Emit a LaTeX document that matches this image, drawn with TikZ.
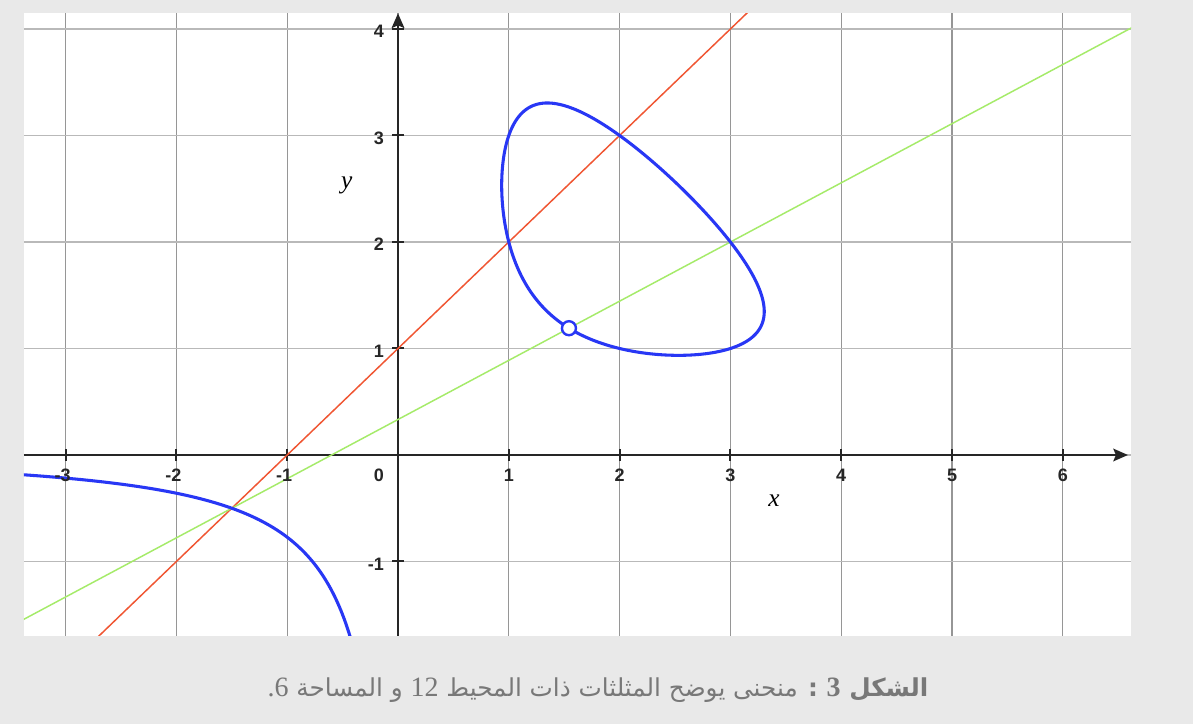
\documentclass[tikz,border=0pt]{standalone}
\usepackage{fontspec}
\setmainfont{Liberation Serif}
\newfontfamily\arabicfont[Script=Arabic]{DejaVu Sans}
\newfontfamily\ticksfont{Liberation Sans}
\newfontfamily\numfont{Liberation Serif}
\TeXXeTstate=1
\usetikzlibrary{arrows.meta}
\definecolor{bggray}{RGB}{233,233,233}
\definecolor{gridv}{RGB}{150,150,150}
\definecolor{gridh}{RGB}{185,185,185}
\definecolor{curveblue}{RGB}{40,55,245}
\definecolor{linered}{RGB}{240,85,50}
\definecolor{linegreen}{RGB}{165,235,105}
\definecolor{captiongray}{RGB}{120,120,120}
\begin{document}
\begin{tikzpicture}[x=83.1pt,y=79.875pt,
  gridvline/.style={draw=gridv,line width=0.8pt},
  gridhline/.style={draw=gridh,line width=0.8pt},
  axisline/.style={draw=black!85,line width=1.5pt,-{Stealth[length=11pt,width=9.5pt,inset=2pt]}},
  tickmark/.style={draw=black!85,line width=1.5pt},
  ticklabel/.style={font=\ticksfont\bfseries\fontsize{13.5}{15}\selectfont,text=black!85,inner sep=0pt},
  axislabel/.style={font=\itshape\fontsize{19}{22}\selectfont,inner sep=0pt},
  chord/.style={line width=1.1pt},
  curve/.style={draw=curveblue,line width=2.3pt,line join=round},
  marker/.style={draw=curveblue,fill=white,line width=1.8pt},
  captxt/.style={text=captiongray,inner sep=0pt},
  declare function={
    ovx(\t)=2.12061-1.18479*cos(\t);
    fD(\x)=max((\x)*((\x)*(6-(\x))*(6-(\x))-24),0);
    fup(\x)=((\x)*(6-(\x))+sqrt(fD(\x)))/(2*(\x));
    flo(\x)=((\x)*(6-(\x))-sqrt(fD(\x)))/(2*(\x));
    gneg(\x)=((\x)*(6-(\x))+sqrt((\x)*(\x)*(6-(\x))*(6-(\x))-24*(\x)))/(2*(\x));
  }]
% background and plotting area
\path[use as bounding box,fill=bggray] (-3.5921,-2.5258) rectangle (7.1751,4.2723);
\fill[white] (-3.3755,-1.6995) rectangle (6.6155,4.1455);
\begin{scope}
  \clip (-3.3755,-1.6995) rectangle (6.6155,4.1455);
  % grid
  \foreach \i in {-3,...,6} \draw[gridvline] (\i,-1.6995) -- (\i,4.1455);
  \foreach \j in {-1,...,4} \draw[gridhline] (-3.3755,\j) -- (6.6155,\j);
  % axes
  \coordinate (xs) at (-3.3755,0);
  \coordinate (xe) at (6.588,0);
  \coordinate (ys) at (0,-1.6995);
  \coordinate (ye) at (0,4.147);
  \draw[axisline] (xs) -- (xe);
  \draw[axisline] (ys) -- (ye);
  \foreach \i in {-3,...,6} \draw[tickmark] (\i,-0.052) -- (\i,0.052);
  \foreach \j in {-1,...,4} \draw[tickmark] (-0.054,\j) -- (0.054,\j);
  % chords
  \coordinate (r1) at (-3.5,-2.5);
  \coordinate (r2) at (3.5,4.5);
  \coordinate (g1) at (-3.5,-1.61111);
  \coordinate (g2) at (7,4.22222);
  \draw[chord,linered] (r1) -- (r2);
  \draw[chord,linegreen] (g1) -- (g2);
  % curve x y (6-x-y) = 6
  \draw[curve] plot[domain=0:180,samples=181,variable=\t] ({ovx(\t)},{fup(ovx(\t))})
     -- plot[domain=180:360,samples=181,variable=\t] ({ovx(\t)},{flo(ovx(\t))}) -- cycle;
  \draw[curve] plot[domain=-3.5:-0.8794,samples=100] (\x,{gneg(\x)})
     -- plot[domain=-0.8794:-1.85,samples=60] ({gneg(\x)},\x);
  \node[marker,circle,inner sep=0pt,minimum size=10.5pt] (pt) at (1.542857,1.190476) {};
\end{scope}
% tick labels
\foreach \i in {1,...,6} \node[ticklabel,anchor=base] (lx\i) at (\i,-0.2535) {\i};
\foreach \i in {1,2,3} \node[ticklabel,anchor=base] (lxm\i) at (-\i,-0.2535) {\llap{-}\i};
\node[ticklabel,anchor=base east] (l0) at (-0.126,-0.2535) {0};
\foreach \j in {1,...,4} \node[ticklabel,anchor=base east] (ly\j) at (-0.126,\j-0.0845) {\j};
\node[ticklabel,anchor=base east] (lym1) at (-0.126,-1.0845) {-1};
% axis labels
\node[axislabel,anchor=base] (xlab) at (3.394,-0.488) {x};
\node[axislabel,anchor=base] (ylab) at (-0.463,2.504) {y};
% caption
\node[captxt,anchor=base] (cap) at (1.805,-2.272)
  {\arabicfont\fontsize{18.5}{22}\selectfont\beginR{\bfseries الشكل {\numfont\fontsize{21}{24}\selectfont 3} :} منحنى يوضح المثلثات ذات المحيط \beginL{\numfont\fontsize{21}{24}\selectfont 12}\endL{} و المساحة {\numfont\fontsize{21}{24}\selectfont 6}\hbox{\numfont\fontsize{21}{24}\selectfont .}\endR};
\end{tikzpicture}
\end{document}
